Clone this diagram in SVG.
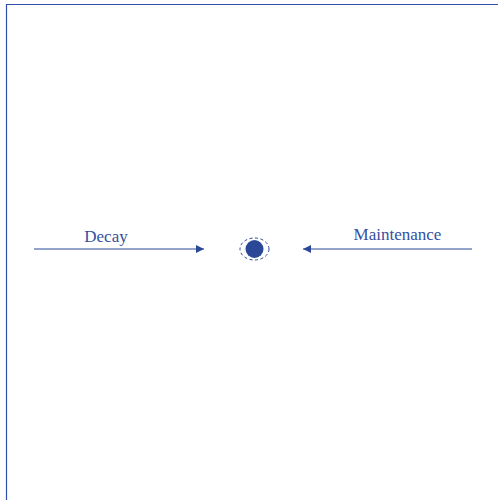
<svg xmlns="http://www.w3.org/2000/svg" width="498" height="500" viewBox="0 0 498 500">
<defs>
<style>
.frame{stroke:#2e4fa8;stroke-width:1.2;fill:none}
.conn{stroke:#2b4898;stroke-width:1.2;fill:none}
.lbl{font-family:'Liberation Serif','Times New Roman',serif;font-size:17px;fill:#34509e;text-anchor:middle}
</style>
<marker id="ah" viewBox="0 0 10 10" refX="10" refY="5" markerWidth="8" markerHeight="8" markerUnits="userSpaceOnUse" orient="auto">
<path d="M0,0 L10,5 L0,10 z" fill="#2b4898"/>
</marker>
</defs>
<g id="frame">
<line class="frame" x1="6.5" y1="4.5" x2="498" y2="4.5"/>
<line class="frame" x1="6.5" y1="4" x2="6.5" y2="500"/>
</g>
<g id="connectors">
<line class="conn" x1="34" y1="249" x2="204" y2="249" marker-end="url(#ah)"/>
<line class="conn" x1="472" y1="249" x2="303" y2="249" marker-end="url(#ah)"/>
</g>
<g id="decay-label"><text class="lbl" x="106" y="242">Decay</text></g>
<g id="maintenance-label"><text class="lbl" x="397.5" y="240">Maintenance</text></g>
<g id="state">
<ellipse cx="254.5" cy="249" rx="14.5" ry="11" fill="none" stroke="#2b4898" stroke-width="1" stroke-dasharray="3,2.5"/>
<circle cx="254.5" cy="249" r="9" fill="#2b4898"/>
</g>
</svg>
